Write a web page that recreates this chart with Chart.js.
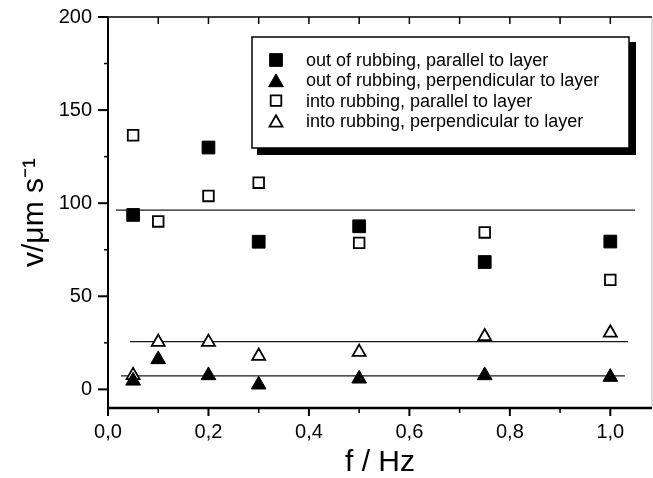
<!DOCTYPE html>
<html lang="en">
<head>
<meta charset="UTF-8">
<title>Velocity vs frequency</title>
<script src="https://cdn.jsdelivr.net/npm/chart.js"></script>
<style>
  html, body { margin: 0; padding: 0; background: #fff; }
  #chart { display: block; }
</style>
</head>
<body>
<canvas id="chart" width="653" height="478"></canvas>
<script>
// data (f in Hz, v in um/s)
const freqs = [0.05, 0.1, 0.2, 0.3, 0.5, 0.75, 1.0];
const outParFreqs = [0.05, 0.2, 0.3, 0.5, 0.75, 1.0];
const outPar = [93.7, 129.9, 79.3, 87.6, 68.4, 79.4];
const outPerp = [4.6, 16.1, 7.5, 2.5, 5.7, 7.5, 6.6];
const intoPar = [136.5, 90.2, 103.9, 111, 78.7, 84.3, 58.8];
const intoPerp = [7.5, 25.4, 25.4, 17.9, 20, 28.4, 30.4];

// mean lines
const parMean = 96.3, parMeanX = [0.016, 1.049];
const perpIntoMean = 25.6, perpIntoMeanX = [0.044, 1.035];
const perpOutMean = 7.3, perpOutMeanX = [0.026, 1.029];

const labels = [
  'out of rubbing, parallel to layer',
  'out of rubbing, perpendicular to layer',
  'into rubbing, parallel to layer',
  'into rubbing, perpendicular to layer'
];

const xTicks = [0, 0.2, 0.4, 0.6, 0.8, 1.0];
const xMinor = [0.1, 0.3, 0.5, 0.7, 0.9];
const yTicks = [0, 50, 100, 150, 200];
const yMinor = [25, 75, 125, 175];

const pts = (xs, ys) => ys.map((y, i) => ({x: xs[i], y}));
const hline = (xs, v) => xs.map(x => ({x, y: v}));

Chart.defaults.font.family = '"Liberation Sans", Arial, Helvetica, sans-serif';
Chart.defaults.color = '#000';

// axis frame with inward/outward ticks like the original plot
const frame = {
  id: 'frame',
  beforeDatasetsDraw(chart) {
    const {ctx, chartArea: a, scales: {x, y}} = chart;
    ctx.save();
    // right axis (faint in the scan)
    ctx.strokeStyle = '#bbb';
    ctx.lineWidth = 1;
    ctx.beginPath(); ctx.moveTo(a.right, a.top); ctx.lineTo(a.right, a.bottom); ctx.stroke();
    ctx.strokeStyle = '#000';
    // top
    ctx.lineWidth = 1.5;
    ctx.beginPath(); ctx.moveTo(a.left, a.top); ctx.lineTo(a.right, a.top); ctx.stroke();
    xTicks.concat(xMinor).forEach(v => {
      const px = x.getPixelForValue(v);
      ctx.beginPath(); ctx.moveTo(px, a.top); ctx.lineTo(px, a.top + 7); ctx.stroke();
    });
    // left
    ctx.lineWidth = 2;
    ctx.beginPath(); ctx.moveTo(a.left, a.top); ctx.lineTo(a.left, a.bottom); ctx.stroke();
    yTicks.forEach(v => {
      const py = y.getPixelForValue(v);
      ctx.beginPath(); ctx.moveTo(a.left - 10, py); ctx.lineTo(a.left, py); ctx.stroke();
    });
    ctx.lineWidth = 1.5;
    yMinor.forEach(v => {
      const py = y.getPixelForValue(v);
      ctx.beginPath(); ctx.moveTo(a.left - 4, py); ctx.lineTo(a.left, py); ctx.stroke();
    });
    // bottom
    ctx.lineWidth = 2.5;
    ctx.beginPath(); ctx.moveTo(a.left - 1, a.bottom); ctx.lineTo(a.right, a.bottom); ctx.stroke();
    ctx.lineWidth = 2;
    xTicks.forEach(v => {
      const px = x.getPixelForValue(v);
      ctx.beginPath(); ctx.moveTo(px, a.bottom); ctx.lineTo(px, a.bottom + 8); ctx.stroke();
    });
    ctx.lineWidth = 1.5;
    xMinor.forEach(v => {
      const px = x.getPixelForValue(v);
      ctx.beginPath(); ctx.moveTo(px, a.bottom); ctx.lineTo(px, a.bottom + 5); ctx.stroke();
    });
    ctx.restore();
  }
};

// boxed legend with drop shadow
const boxLegend = {
  id: 'boxLegend',
  afterDraw(chart) {
    const {ctx} = chart;
    const bx = 252, by = 37, bw = 377, bh = 111;
    ctx.save();
    ctx.fillStyle = '#000';
    ctx.fillRect(bx + 5, by + 5, bw + 2, bh + 2);
    ctx.fillStyle = '#fff';
    ctx.fillRect(bx, by, bw, bh);
    ctx.strokeStyle = '#000';
    ctx.lineWidth = 1.5;
    ctx.strokeRect(bx, by, bw, bh);

    const items = chart.data.datasets.filter(d => d.label);
    ctx.font = '18px "Liberation Sans", Arial, Helvetica, sans-serif';
    ctx.textBaseline = 'middle';
    items.forEach((d, i) => {
      const ry = 60 + i * 20.3;
      const isTri = d.pointStyle === 'triangle';
      ctx.fillStyle = d.backgroundColor;
      ctx.strokeStyle = d.borderColor;
      ctx.lineWidth = d.borderWidth;
      Chart.helpers.drawPoint(ctx, {
        pointStyle: d.pointStyle, radius: d.pointRadius, borderWidth: d.borderWidth, rotation: 0
      }, 276, ry + (isTri ? d.pointRadius / 4 : 0));
      ctx.fillStyle = '#000';
      ctx.fillText(d.label, 306, ry + 1);
    });
    ctx.restore();
  }
};

const meanLine = {
  label: '', showLine: true, borderColor: '#1a1a1a', borderWidth: 1.3,
  pointRadius: 0, fill: false
};

new Chart(document.getElementById('chart'), {
  type: 'scatter',
  data: {
    datasets: [
      { label: labels[0], data: pts(outParFreqs, outPar), pointStyle: 'rect', pointRadius: 9,
        backgroundColor: '#000', borderColor: '#000', borderWidth: 1 },
      { label: labels[1], data: pts(freqs, outPerp), pointStyle: 'triangle', pointRadius: 8.5,
        backgroundColor: '#000', borderColor: '#000', borderWidth: 1 },
      { label: labels[2], data: pts(freqs, intoPar), pointStyle: 'rect', pointRadius: 7.5,
        backgroundColor: '#fff', borderColor: '#000', borderWidth: 1.8 },
      { label: labels[3], data: pts(freqs, intoPerp), pointStyle: 'triangle', pointRadius: 7.5,
        backgroundColor: '#fff', borderColor: '#000', borderWidth: 1.8 },
      Object.assign({ data: hline(parMeanX, parMean) }, meanLine),
      Object.assign({ data: hline(perpIntoMeanX, perpIntoMean) }, meanLine),
      Object.assign({ data: hline(perpOutMeanX, perpOutMean) }, meanLine)
    ]
  },
  options: {
    responsive: false,
    animation: false,
    layout: { autoPadding: false, padding: { top: 17, right: 1, left: 0, bottom: 0 } },
    plugins: {
      legend: { display: false },
      tooltip: { enabled: false }
    },
    scales: {
      x: {
        type: 'linear', min: 0, max: 1.083,
        afterBuildTicks: s => { s.ticks = xTicks.map(value => ({value})); },
        afterFit: s => { s.height = 70; s.paddingLeft = 0; s.paddingRight = 0; },
        grid: { display: false, drawTicks: false },
        border: { display: false },
        ticks: {
          padding: 12, maxRotation: 0, font: { size: 20 }, color: '#000',
          callback: v => v.toFixed(1).replace('.', ',')
        },
        title: {
          display: true, text: 'f / Hz', color: '#000',
          font: { size: 30, lineHeight: 1 }, padding: { top: 0, bottom: 0 }
        }
      },
      y: {
        min: -10, max: 200,
        afterBuildTicks: s => { s.ticks = yTicks.map(value => ({value})); },
        afterFit: s => { s.width = 108; s.paddingTop = 0; s.paddingBottom = 0; },
        grid: { display: false, drawTicks: false },
        border: { display: false },
        ticks: { padding: 16, font: { size: 20 }, color: '#000' },
        title: {
          display: true, text: 'v/\u03BCm s\u207B\u00B9', color: '#000',
          font: { size: 30, lineHeight: 1 }, padding: { top: 20, bottom: 0 }
        }
      }
    }
  },
  plugins: [frame, boxLegend]
});
</script>
</body>
</html>
